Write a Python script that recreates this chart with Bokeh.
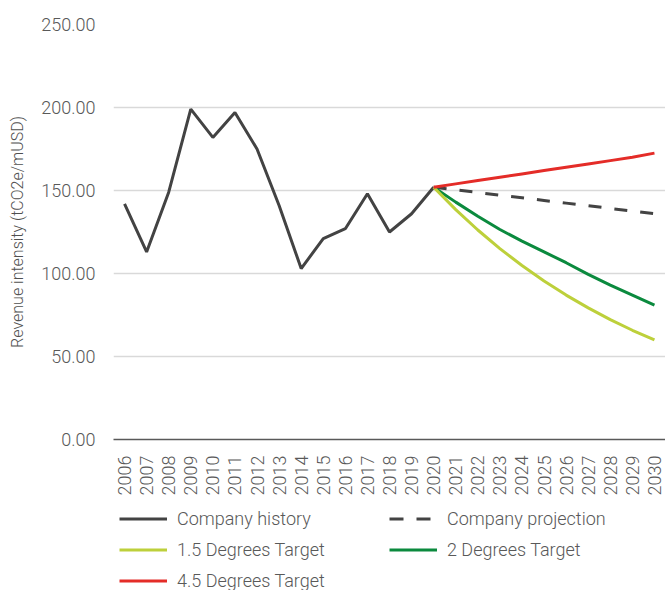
from bokeh.plotting import figure
from bokeh.models import Legend, LegendItem, NumeralTickFormatter, FactorRange, Range1d
from bokeh.layouts import column
from bokeh.embed import file_html
from bokeh.resources import INLINE
import math

years = ["2006", "2007", "2008", "2009", "2010", "2011", "2012", "2013", "2014",
         "2015", "2016", "2017", "2018", "2019", "2020", "2021", "2022", "2023",
         "2024", "2025", "2026", "2027", "2028", "2029", "2030"]

history_years = years[:15]
history = [142, 113, 149, 199, 182, 197, 175, 141, 103, 121, 127, 148, 125, 136, 152]

proj_years = years[14:]
projection = [152, 150.4, 148.8, 147.2, 145.6, 144.0, 142.4, 140.8, 139.2, 137.6, 136]
target_15 = [152, 138.5, 126.2, 115.0, 104.8, 95.5, 87.0, 79.3, 72.2, 65.8, 60]
target_2 = [152, 143, 134.5, 126.5, 119.5, 113, 106.5, 99.5, 93, 87, 81]
target_45 = [152, 154, 156, 158, 160, 162, 164, 166, 168, 170, 172.5]

y_ticks = [0, 50, 100, 150, 200, 250]

series_labels = ["Company history", "Company projection", "1.5 Degrees Target",
                 "2 Degrees Target", "4.5 Degrees Target"]

FONT = "'Roboto Light', Roboto"
TXT = "#595959"
C_HIST = "#434343"
C_15 = "#BDD03B"
C_2 = "#0B8A3E"
C_45 = "#E42C28"
DASH = "13 13"
LW = 3

p = figure(width=665, height=502, x_range=FactorRange(*years, range_padding=0),
           y_range=(0, 250), output_backend="svg", toolbar_location=None,
           min_border_left=113, min_border_top=24, min_border_right=0,
           min_border_bottom=63)
p.outline_line_color = None

p.line(history_years, history, line_color=C_HIST, line_width=LW)
p.line(proj_years, projection, line_color=C_HIST, line_width=LW, line_dash=DASH)
p.line(proj_years, target_2, line_color=C_2, line_width=LW)
p.line(proj_years, target_15, line_color=C_15, line_width=LW)
p.line(proj_years, target_45, line_color=C_45, line_width=LW)

# y axis
p.yaxis.ticker = y_ticks
p.yaxis.formatter = NumeralTickFormatter(format="0.00")
p.yaxis.axis_line_color = None
p.yaxis.major_tick_line_color = None
p.yaxis.minor_tick_line_color = None
p.yaxis.major_label_text_font = FONT
p.yaxis.major_label_text_font_size = "18px"
p.yaxis.major_label_text_color = TXT
p.yaxis.major_label_standoff = 12
p.yaxis.axis_label = "Revenue intensity (tCO2e/mUSD)"
p.yaxis.axis_label_text_font = FONT
p.yaxis.axis_label_text_font_size = "16px"
p.yaxis.axis_label_text_font_style = "normal"
p.yaxis.axis_label_text_color = "#505050"
p.yaxis.axis_label_standoff = 11

# x axis
p.xaxis.axis_line_color = "#595959"
p.xaxis.axis_line_width = 1.5
p.xaxis.major_tick_line_color = None
p.xaxis.minor_tick_line_color = None
p.xaxis.major_label_orientation = math.pi / 2
p.xaxis.major_label_text_font = FONT
p.xaxis.major_label_text_font_size = "18px"
p.xaxis.major_label_text_color = TXT
p.xaxis.major_label_standoff = 10

p.xgrid.grid_line_color = None
p.ygrid.grid_line_color = "#D9D9D9"
p.ygrid.grid_line_width = 1.5

# legend panel (legend only; its sample lines lie outside the visible range)
lg = figure(width=665, height=88, output_backend="svg", toolbar_location=None,
            x_range=Range1d(0, 1), y_range=Range1d(0, 1),
            x_axis_location=None, y_axis_location=None,
            min_border_left=113, min_border_top=0, min_border_right=0, min_border_bottom=0)
lg.outline_line_color = None
lg.xgrid.grid_line_color = None
lg.ygrid.grid_line_color = None
hidden_x = [-5, -4]
hidden_y = [-5, -4]
h1 = lg.line(hidden_x, hidden_y, line_color=C_HIST, line_width=LW)
h2 = lg.line(hidden_x, hidden_y, line_color=C_HIST, line_width=LW, line_dash="14 13")
h3 = lg.line(hidden_x, hidden_y, line_color=C_15, line_width=LW)
h4 = lg.line(hidden_x, hidden_y, line_color=C_2, line_width=LW)
h5 = lg.line(hidden_x, hidden_y, line_color=C_45, line_width=LW)

legend = Legend(items=[LegendItem(label=l, renderers=[r]) for l, r in
                       zip(series_labels, [h1, h2, h3, h4, h5])],
                orientation="horizontal", ncols=2, location=(6, -1))
legend.border_line_color = None
legend.background_fill_alpha = 0
legend.glyph_width = 48
legend.glyph_height = 21
legend.label_height = 21
legend.label_width = 202
legend.label_standoff = 10
legend.spacing = 10
legend.padding = 0
legend.margin = 0
legend.label_text_font = FONT
legend.label_text_font_size = "18px"
legend.label_text_color = TXT
lg.add_layout(legend, "center")

layout = column(p, lg, spacing=0)
open("out.html", "w").write(file_html(layout, INLINE))
